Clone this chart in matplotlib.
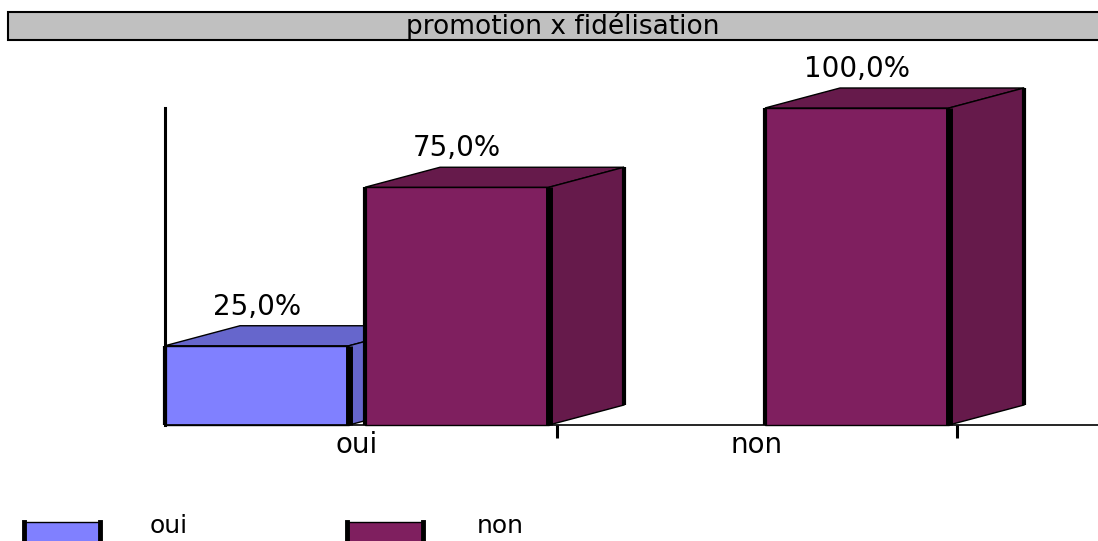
import numpy as np
import matplotlib.pyplot as plt
from matplotlib.patches import Polygon, Rectangle

categories = ['oui', 'non']
series_names = ['oui', 'non']
series_values = [[25.0, 0.0],
                 [75.0, 100.0]]
title = 'promotion x fidélisation'

front_colors = ['#8080FF', '#7F1F5F']
dark_colors = ['#6666CC', '#661A4B']

W, H = 1098, 541
fig = plt.figure(figsize=(W / 100, H / 100), dpi=100, facecolor='white')
plt.rcParams['font.family'] = ['DejaVu Sans']

# title bar
fig.patches.append(Rectangle((8 / W, 1 - 40 / H), 1.0, 28 / H, transform=fig.transFigure,
                             facecolor='#C0C0C0', edgecolor='black', lw=1.5))
fig.text(563 / W, 1 - 26 / H, title, ha='center', va='center', fontsize=19)

ax = fig.add_axes([165 / W, 116 / H, (W - 165) / W, 317 / H])
ax.set_xlim(-0.48, 1.8525)
ax.set_ylim(0, 100)
for s in ['top', 'right']:
    ax.spines[s].set_visible(False)
ax.spines['left'].set_linewidth(2.2)
ax.spines['bottom'].set_linewidth(1.2)
ax.set_yticks([])
ax.set_xticks([0.5, 1.5])
ax.set_xticklabels([])
ax.tick_params(axis='x', which='major', direction='out', length=9, width=2.2)
ax.set_xticks(np.arange(len(categories)), minor=True)
ax.set_xticklabels(categories, minor=True, fontsize=20)
ax.tick_params(axis='x', which='minor', length=0, pad=4)

offsets = [-0.25, 0.25]
width = 0.46
dx = 0.1875            # depth in data units (x)
dy = 20 / 3.17         # depth in data units (y)

z = 2
for g in range(len(categories)):
    for i, name in enumerate(series_names):
        h = series_values[i][g]
        if h == 0:
            continue
        x0 = g + offsets[i] - width / 2
        x1 = x0 + width
        ax.bar(g + offsets[i], h, width, color=front_colors[i], edgecolor='black',
               lw=1, zorder=z, clip_on=False)
        top = Polygon([(x0, h), (x0 + dx, h + dy), (x1 + dx, h + dy), (x1, h)],
                      closed=True, facecolor=dark_colors[i], edgecolor='black', lw=1,
                      zorder=z, clip_on=False)
        side = Polygon([(x1, 0), (x1, h), (x1 + dx, h + dy), (x1 + dx, dy)],
                       closed=True, facecolor=dark_colors[i], edgecolor='black', lw=1,
                       zorder=z, clip_on=False)
        ax.add_patch(top)
        ax.add_patch(side)
        ax.plot([x0, x0], [0, h], color='black', lw=3, zorder=z + 0.1, clip_on=False,
                solid_capstyle='butt')
        ax.plot([x1, x1], [0, h], color='black', lw=5, zorder=z + 0.1, clip_on=False,
                solid_capstyle='butt')
        ax.plot([x1 + dx, x1 + dx], [dy, h + dy], color='black', lw=3, zorder=z + 0.1,
                clip_on=False, solid_capstyle='butt')
        ax.annotate(f'{h:.1f}%'.replace('.', ','), (g + offsets[i], h),
                    xytext=(0, 28), textcoords='offset points', ha='center',
                    va='center', fontsize=20, zorder=z + 1, annotation_clip=False)
        z += 1

# legend (boxes partly cut at the bottom like the reference)
leg_x = [24, 347]
text_x = [150, 477]
for i, name in enumerate(series_names):
    fig.patches.append(Rectangle((leg_x[i] / W, -0.02), 76 / W, 0.02 + 19 / H,
                                 transform=fig.transFigure, facecolor=front_colors[i],
                                 edgecolor='black', lw=1))
    for xe in [leg_x[i], leg_x[i] + 76]:
        fig.lines.append(plt.Line2D([xe / W, xe / W], [0, 19 / H], transform=fig.transFigure,
                                    color='black', lw=3.5))
    fig.text(text_x[i] / W, 1 - 526 / H, name, ha='left', va='center', fontsize=18)

fig.savefig('out.png', dpi=100)
